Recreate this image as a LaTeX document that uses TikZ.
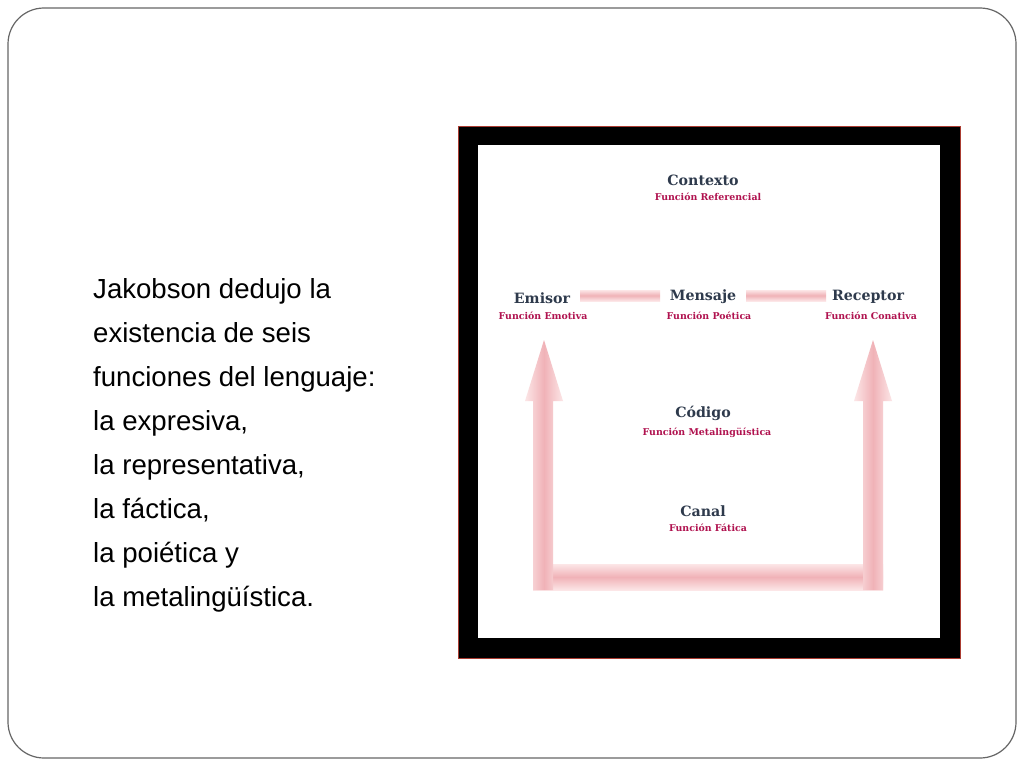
\documentclass[tikz,border=0pt]{standalone}
\usepackage{fontspec}
\setmainfont{Liberation Sans}
\newfontfamily\dserif{DejaVu Serif}
\usetikzlibrary{shapes.geometric}
\definecolor{titlec}{HTML}{2E3A4C}
\definecolor{subc}{HTML}{B0124F}
\definecolor{pinkcore}{RGB}{240,178,183}
\definecolor{pinkedge}{RGB}{252,230,231}
\definecolor{framered}{RGB}{170,60,50}
\tikzset{
  bodytext/.style={anchor=base west, font=\fontsize{27.6}{32}\selectfont, inner sep=0pt},
  title/.style={font=\dserif\bfseries\fontsize{14.2}{16}\selectfont, text=titlec, inner sep=1pt},
  sub/.style={font=\dserif\bfseries\fontsize{9.4}{11}\selectfont, text=subc, inner sep=1pt},
  vbar/.style={left color=pinkedge, right color=pinkedge, middle color=pinkcore},
  hbar/.style={top color=pinkedge, bottom color=pinkedge, middle color=pinkcore},
}
\begin{document}
\begin{tikzpicture}[x=1pt,y=-1pt]
\useasboundingbox (0,0) rectangle (1024,768);
\fill[white] (0,0) rectangle (1024,768);
% slide border
\draw[gray!80!black, line width=1.2pt, rounded corners=36pt] (8,8) rectangle (1016,758);
% left text
\foreach \t [count=\i from 0] in {{Jakobson dedujo la}, {existencia de seis}, {funciones del lenguaje:}, {la expresiva,}, {la representativa,}, {la fáctica,}, {la poiética y}, {la metalingüística.}}{
  \node[bodytext] (t\i) at (93,{298+44.1*\i}) {\t};
}
% frame
\fill[black, draw=framered, line width=0.8pt] (458,126) rectangle (960,658);
\fill[white] (478,145) rectangle (940,638);
% labels
\node[title] (contexto) at (703,180) {Contexto};
\node[sub] (refer) at (708,197) {Función Referencial};
\node[title] (emisor) at (542,298) {Emisor};
\node[sub] (emot) at (543,316) {Función Emotiva};
\node[title] (mensaje) at (703,297) {Mensaje};
\node[sub] (poet) at (709,316) {Función Poética};
\node[title] (receptor) at (868,297) {Receptor};
\node[sub] (conat) at (871,316) {Función Conativa};
\node[title] (codigo) at (703,413) {Código};
\node[sub] (meta) at (707,433) {Función Metalingüística};
\node[title] (canal) at (703,511) {Canal};
\node[sub] (fatic) at (708,528) {Función Fática};
% horizontal bars
\shade[hbar] (580,290) rectangle (660,301);
\shade[hbar] (746,290) rectangle (826,301);
% bottom bar
\shade[hbar] (533,564) rectangle (883,590);
% left arrow
\shade[vbar] (533,590) -- (533,401) -- (525,401) -- (544,340) -- (563,401) -- (553,401) -- (553,590) -- cycle;
% right arrow
\shade[vbar] (863,590) -- (863,401) -- (854,401) -- (873,340) -- (892,401) -- (883,401) -- (883,590) -- cycle;
\end{tikzpicture}
\end{document}
